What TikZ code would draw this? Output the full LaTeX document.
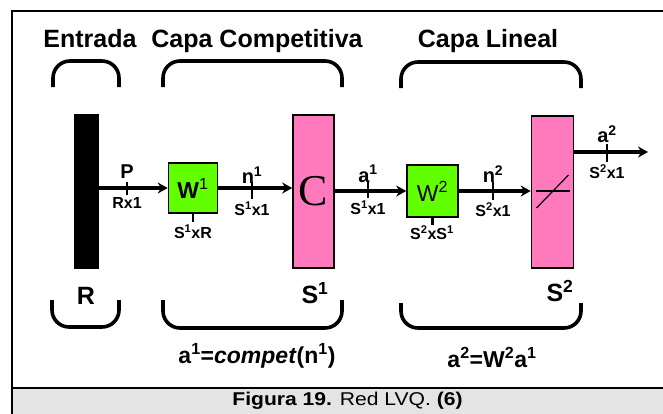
\documentclass[tikz,border=0pt]{standalone}
\usepackage{fontspec}
\setmainfont{Liberation Sans}
\newfontfamily\serifC{Liberation Serif}
\usetikzlibrary{arrows.meta}
\definecolor{wgreen}{HTML}{62FF00}
\definecolor{tpink}{HTML}{FF7ABD}
\definecolor{capgray}{HTML}{E4E4E4}
\tikzset{
  brace/.style={line width=3.6pt, rounded corners=17pt},
  ttl/.style={font=\bfseries\fontsize{25}{25}\selectfont, inner sep=0pt, anchor=base},
  lbl/.style={font=\bfseries\fontsize{20}{20}\selectfont, inner sep=0pt},
  dimlbl/.style={font=\bfseries\fontsize{16}{16}\selectfont, inner sep=0pt},
  eqn/.style={font=\bfseries\fontsize{23}{23}\selectfont, inner sep=0pt},
  wbox/.style={draw, line width=1.6pt, fill=wgreen, minimum width=49pt, minimum height=50pt, inner sep=0pt, font=\bfseries\fontsize{23}{23}\selectfont},
  tbox/.style={draw, line width=1.6pt, fill=tpink, minimum width=42pt, minimum height=153pt, inner sep=0pt},
  arr/.style={line width=3.2pt, -{Stealth[length=10pt,width=11pt]}},
  tick/.style={line width=2.4pt}
}
\begin{document}
\begin{tikzpicture}[x=1pt,y=-1pt]
\useasboundingbox (0,0) rectangle (663,413);
% caption band
\fill[capgray] (12,388) rectangle (670,420);
\draw[line width=2.6pt] (12,420) -- (12,11) -- (670,11);
\draw[line width=2.6pt] (12,388) -- (670,388);
\node[inner sep=0pt, font=\fontsize{18.5}{18.5}\selectfont] (cap) at (347.5,400.5)
  {\scalebox{1.14}[1]{\textbf{Figura 19.} Red LVQ. \textbf{(6)}}};

% titles
\node[ttl] (tin) at (90,47) {Entrada};
\node[ttl] (tcomp) at (257,47) {Capa Competitiva};
\node[ttl] (tlin) at (488,47) {Capa Lineal};

% top braces
\draw[brace] (53,87) -- (53,61) -- (119,61) -- (119,87);
\draw[brace] (163,87) -- (163,61) -- (342,61) -- (342,87);
\draw[brace] (401,88) -- (401,62) -- (581,62) -- (581,88);
% bottom braces
\draw[brace] (52,300) -- (52,327) -- (119,327) -- (119,300);
\draw[brace] (163,300) -- (163,328) -- (342,328) -- (342,300);
\draw[brace] (401,303) -- (401,328) -- (581,328) -- (581,303);

% blocks
\node[fill=black, minimum width=25pt, minimum height=155pt, inner sep=0pt] (bar) at (86.5,191.5) {};
\node[wbox] (W1) at (193,188) {W\textsuperscript{\mdseries 1}};
\node[tbox, minimum width=41pt] (C) at (313.5,191.5) {\serifC\fontsize{44}{44}\selectfont C};
\node[wbox, minimum width=51pt, minimum height=52pt] (W2) at (432.5,191) {\mdseries W\textsuperscript{2}};
\node[tbox, minimum height=152pt] (L) at (552.5,192) {};
\draw[line width=1.2pt] ([shift={(-17,-1)}]L.center) -- ([shift={(17,-1)}]L.center);
\draw[line width=1.2pt] ([shift={(-16,16)}]L.center) -- ([shift={(16,-17)}]L.center);
\coordinate (out) at (648,152);

% connectors
\draw[arr] (bar.east |- W1.west) -- (W1.west);
\draw[arr] (W1.east) -- (C.west |- W1.east);
\draw[arr] (C.east |- W2.west) -- (W2.west);
\draw[arr] (W2.east) -- (L.west |- W2.east);
\draw[arr] (L.east |- out) -- (out);

% arrow labels
\draw[tick] (127,182) -- (127,195);
\node[lbl] (lP) at (127,172) {P};
\node[dimlbl] (dP) at (127,203) {Rx1};
\draw[tick] (252,182) -- (252,199);
\node[lbl] (ln1) at (252,175) {n\textsuperscript{1}};
\node[dimlbl] (dn1) at (252,209) {S\textsuperscript{1}x1};
\draw[tick] (368,182) -- (368,198);
\node[lbl] (la1) at (368,174) {a\textsuperscript{1}};
\node[dimlbl] (da1) at (368,208) {S\textsuperscript{1}x1};
\draw[tick] (493,182) -- (493,200);
\node[lbl] (ln2) at (493,174) {n\textsuperscript{2}};
\node[dimlbl] (dn2) at (493,210) {S\textsuperscript{2}x1};
\draw[tick] (607,144) -- (607,162);
\node[lbl] (la2) at (607,134) {a\textsuperscript{2}};
\node[dimlbl] (da2) at (607,172) {S\textsuperscript{2}x1};

% weight dims
\draw[tick] (W1.south) -- ++(0,8);
\node[dimlbl] (dW1) at (193,232) {S\textsuperscript{1}xR};
\draw[tick] (W2.south) -- ++(0,7);
\node[dimlbl] (dW2) at (432,233) {S\textsuperscript{2}xS\textsuperscript{1}};

% sizes
\node[lbl, font=\bfseries\fontsize{25}{25}\selectfont] (lR) at (86,296) {R};
\node[lbl, font=\bfseries\fontsize{25}{25}\selectfont] (lS1) at (315,293) {S\textsuperscript{1}};
\node[lbl, font=\bfseries\fontsize{25}{25}\selectfont] (lS2) at (560,291) {S\textsuperscript{2}};

% equations
\node[eqn] (eq1) at (257,356) {a\textsuperscript{1}=\textit{compet}(n\textsuperscript{1})};
\node[eqn] (eq2) at (492,357) {a\textsuperscript{2}=W\textsuperscript{2}a\textsuperscript{1}};
\end{tikzpicture}
\end{document}
